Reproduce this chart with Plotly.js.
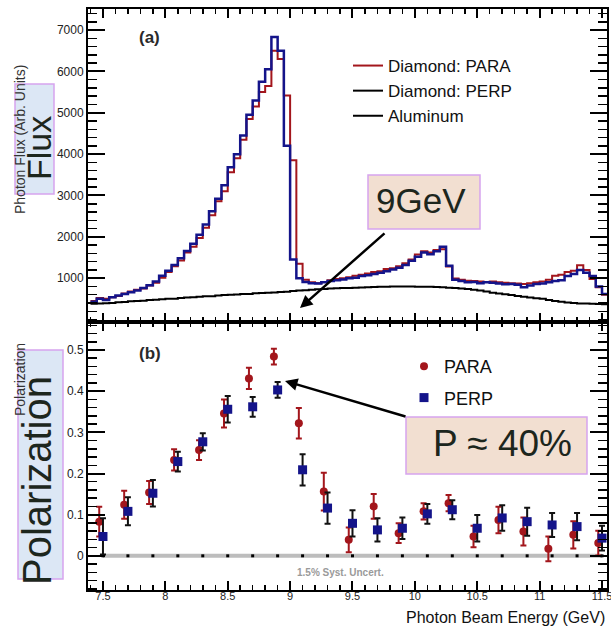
<!DOCTYPE html>
<html><head><meta charset="utf-8">
<script src="https://cdn.plot.ly/plotly-3.0.1.min.js"></script>
<style>html,body{margin:0;padding:0;background:#fff}#chart{width:611px;height:627px}</style>
</head><body><div id="chart"></div>
<script>
// ---- Data: photon flux histograms (bin low edges, GeV) ----
const binLow = [7.40,7.45,7.50,7.55,7.60,7.65,7.70,7.75,7.80,7.85,7.90,7.95,
 8.00,8.05,8.10,8.15,8.20,8.25,8.30,8.35,8.40,8.45,8.50,8.55,8.60,8.65,8.70,8.75,8.80,8.85,8.90,8.95,
 9.00,9.05,9.10,9.15,9.20,9.25,9.30,9.35,9.40,9.45,9.50,9.55,9.60,9.65,9.70,9.75,9.80,9.85,9.90,9.95,
 10.00,10.05,10.10,10.15,10.20,10.25,10.30,10.35,10.40,10.45,10.50,10.55,10.60,10.65,10.70,10.75,10.80,10.85,10.90,10.95,
 11.00,11.05,11.10,11.15,11.20,11.25,11.30,11.35,11.40,11.45,11.50];
const binWidth = 0.05;
const fluxPara = [450,520,500,540,570,630,680,720,750,820,890,1010,
 1150,1290,1430,1620,1760,1970,2220,2520,2860,3100,3560,3900,4350,4850,5150,5500,5650,6500,6300,5420,
 3850,1350,960,900,880,910,950,980,1000,1020,1060,1080,1110,1150,1170,1220,1240,1290,1360,1450,
 1570,1650,1620,1680,1700,1280,990,960,940,930,920,910,920,900,890,880,870,860,880,900,
 920,960,1060,1080,1150,1180,1310,1200,980,780,600];
const fluxPerp = [430,500,470,540,580,620,660,700,760,830,920,1060,
 1180,1320,1480,1660,1830,2050,2300,2620,2920,3250,3680,4000,4450,4950,5300,5750,6050,6830,6500,4200,
 1450,1000,910,880,870,900,930,950,970,1000,1010,1050,1070,1100,1130,1170,1210,1250,1320,1420,
 1520,1620,1580,1650,1760,1300,960,930,900,910,880,900,890,870,850,860,840,780,820,860,
 870,900,930,950,1050,1100,1200,1130,1050,800,620];
const fluxAlu = [380,385,395,400,415,425,440,445,455,470,480,490,
 500,505,520,530,540,550,560,565,580,590,600,605,615,620,635,640,650,655,665,670,
 690,700,710,720,730,740,750,755,760,765,770,775,780,785,790,790,800,800,800,800,
 795,795,790,785,780,770,760,750,740,720,700,675,650,630,610,590,570,550,530,515,
 500,475,450,430,410,400,390,385,380,375,370];

// ---- Data: polarization ----
const polParaE = [7.47,7.67,7.87,8.07,8.27,8.47,8.67,8.87,9.07,9.27,9.47,9.67,9.87,10.07,10.27,10.47,10.67,10.87,11.07,11.27,11.47];
const polPara = [0.083,0.124,0.154,0.233,0.257,0.346,0.431,0.484,0.322,0.156,0.039,0.120,0.055,0.108,0.128,0.047,0.087,0.059,0.017,0.051,0.031];
const polParaErr = [0.036,0.034,0.028,0.026,0.024,0.034,0.026,0.019,0.037,0.046,0.030,0.030,0.024,0.020,0.020,0.026,0.032,0.034,0.030,0.033,0.030];
const polPerpE = [7.50,7.70,7.90,8.10,8.30,8.50,8.70,8.90,9.10,9.30,9.50,9.70,9.90,10.10,10.30,10.50,10.70,10.90,11.10,11.30,11.50];
const polPerp = [0.047,0.108,0.152,0.229,0.277,0.356,0.362,0.403,0.209,0.116,0.079,0.063,0.067,0.102,0.112,0.067,0.092,0.083,0.075,0.071,0.043];
const polPerpErr = [0.044,0.034,0.032,0.024,0.021,0.032,0.024,0.019,0.038,0.038,0.032,0.028,0.026,0.024,0.023,0.032,0.031,0.034,0.029,0.033,0.030];
const systBase = [0,0,0,0,0,0,0,0,0,0,0,0,0,0,0,0,0,0,0,0,0];

const fluxTicks = [1000,2000,3000,4000,5000,6000,7000];
const fluxTickText = ['1000','2000','3000','4000','5000','6000','7000'];

function steps(vals){
  const x=[], y=[];
  for(let i=0;i<vals.length;i++){ x.push(binLow[i]); y.push(vals[i]); }
  x.push(binLow[binLow.length-1]+binWidth); y.push(vals[vals.length-1]);
  return {x, y};
}

const FONT = 'Liberation Sans, Arial, Helvetica, sans-serif';
const RED = '#a3161c', NAVY = '#14148a';
const L=88, R=607, T=9, B=590;
const px = v => (v-L)/(R-L);
const py = v => (B-v)/(B-T);
const split = (B-322)/(B-T);

const sPara = steps(fluxPara), sPerp = steps(fluxPerp), sAlu = steps(fluxAlu);

const traces = [
  {x:sPara.x, y:sPara.y, xaxis:'x2', yaxis:'y2', type:'scatter', mode:'lines', line:{shape:'hv', color:RED, width:2},
   name:'Diamond: PARA', legend:'legend'},
  {x:sPerp.x, y:sPerp.y, xaxis:'x2', yaxis:'y2', type:'scatter', mode:'lines', line:{shape:'hv', color:NAVY, width:2.5},
   name:'Diamond: PERP', showlegend:false},
  {x:[null], y:[null], xaxis:'x2', yaxis:'y2', type:'scatter', mode:'lines', line:{color:'#000', width:2},
   name:'Diamond: PERP', legend:'legend'},
  {x:sAlu.x, y:sAlu.y, xaxis:'x2', yaxis:'y2', type:'scatter', mode:'lines', line:{shape:'hv', color:'#000', width:2},
   name:'Aluminum', legend:'legend'},
  {x:polPerpE, y:systBase, xaxis:'x', yaxis:'y', type:'scatter', mode:'lines+markers',
   line:{color:'#bdbdbd', width:4}, marker:{symbol:'square', size:3, color:'#000'}, showlegend:false, hoverinfo:'skip'},
  {x:polParaE, y:polPara, xaxis:'x', yaxis:'y', type:'scatter', mode:'markers', name:'PARA', legend:'legend2', legendgroup:'d',
   marker:{symbol:'circle', size:8, color:RED},
   error_y:{type:'data', array:polParaErr, visible:true, color:RED, thickness:2, width:3}},
  {x:polPerpE, y:polPerp, xaxis:'x', yaxis:'y', type:'scatter', mode:'markers', name:'PERP', legend:'legend2', legendgroup:'e',
   marker:{symbol:'square', size:9, color:NAVY},
   error_y:{type:'data', array:polPerpErr, visible:true, color:'#111', thickness:2, width:3}}
];

const xCommon = {range:[7.38,11.54], tickmode:'linear', tick0:7.5, dtick:0.5, ticks:'inside', ticklen:9, tickwidth:2,
  tickcolor:'#000', showline:true, linewidth:2, linecolor:'#000', mirror:'allticks', showgrid:false, zeroline:false,
  minor:{ticks:'inside', ticklen:5, tickwidth:1.5, tickcolor:'#000', tick0:7.5, dtick:0.1, showgrid:false},
  tickfont:{family:FONT, size:11, color:'#222'}, ticklabeloverflow:'allow'};

function ann(text, x, y, size, extra){
  return Object.assign({text:text, xref:'paper', yref:'paper', x:px(x), y:py(y), xanchor:'center', yanchor:'middle',
    showarrow:false, font:{family:FONT, size:size, color:'#1d261d'}}, extra||{});
}

const layout = {
  width:611, height:627, margin:{l:L, r:611-R, t:T, b:627-B},
  paper_bgcolor:'#fff', plot_bgcolor:'#fff',
  font:{family:FONT, color:'#111'},
  xaxis: Object.assign({}, xCommon, {anchor:'y', domain:[0,1], ticklabelstandoff:-5}),
  xaxis2: Object.assign({}, xCommon, {anchor:'y2', domain:[0,1], showticklabels:false, matches:'x'}),
  yaxis: {domain:[0,split], anchor:'x', range:[-0.083,0.568], tickmode:'linear', tick0:0, dtick:0.1,
    ticks:'inside', ticklen:17, tickwidth:2, tickcolor:'#000', showline:true, linewidth:2, linecolor:'#000',
    mirror:'allticks', showgrid:false, zeroline:false,
    minor:{ticks:'inside', ticklen:9, tickwidth:1.5, tickcolor:'#000', tick0:0, dtick:0.02, showgrid:false},
    tickfont:{family:FONT, size:12, color:'#222'}},
  yaxis2: {domain:[split,1], anchor:'x2', range:[-60,7510], tickmode:'array', tickvals:fluxTicks, ticktext:fluxTickText,
    ticks:'inside', ticklen:17, tickwidth:2, tickcolor:'#000', showline:true, linewidth:2, linecolor:'#000',
    mirror:'allticks', showgrid:false, zeroline:false,
    minor:{ticks:'inside', ticklen:9, tickwidth:1.5, tickcolor:'#000', tick0:0, dtick:200, showgrid:false},
    tickfont:{family:FONT, size:12, color:'#222'}},
  legend: {x:px(348), y:py(48), xanchor:'left', yanchor:'top', bgcolor:'rgba(0,0,0,0)',
    font:{family:FONT, size:17, color:'#111'}, traceorder:'normal'},
  legend2: {x:px(404), y:py(348), xanchor:'left', yanchor:'top', bgcolor:'rgba(0,0,0,0)',
    font:{family:FONT, size:18, color:'#111'}, traceorder:'grouped', tracegroupgap:5},
  shapes: [
    {type:'rect', xref:'paper', yref:'paper', x0:px(15), x1:px(54), y0:py(194), y1:py(84), layer:'above',
     fillcolor:'rgba(214,227,243,0.85)', line:{color:'#d6a4ee', width:1.5}},
    {type:'rect', xref:'paper', yref:'paper', x0:px(18), x1:px(63), y0:py(579), y1:py(350), layer:'above',
     fillcolor:'rgba(214,227,243,0.85)', line:{color:'#d6a4ee', width:1.5}},
    {type:'rect', xref:'paper', yref:'paper', x0:px(368), x1:px(480), y0:py(229), y1:py(175), layer:'above',
     fillcolor:'rgba(242,222,207,0.97)', line:{color:'#d6a4ee', width:1.5}},
    {type:'rect', xref:'paper', yref:'paper', x0:px(406), x1:px(587), y0:py(474), y1:py(417), layer:'above',
     fillcolor:'rgba(242,222,207,0.97)', line:{color:'#d6a4ee', width:1.5}}
  ],
  annotations: [
    ann('<b>(a)</b>', 149, 37, 17, {font:{family:FONT, size:17, color:'#2a2a2a'}}),
    ann('<b>(b)</b>', 150, 353, 17, {font:{family:FONT, size:17, color:'#2a2a2a'}}),
    ann('Photon Flux (Arb. Units)', 20, 140, 14, {textangle:-90, font:{family:FONT, size:14, color:'#333'}}),
    ann('Polarization', 20, 380, 14, {textangle:-90, font:{family:FONT, size:14, color:'#333'}}),
    ann('Photon Beam Energy (GeV)', 607, 617, 16, {x:1, xanchor:'right', font:{family:FONT, size:16, color:'#111'}}),
    ann('<b>1.5% Syst. Uncert.</b>', 340, 572, 10, {font:{family:FONT, size:10, color:'#9a9a9a'}}),
    ann('Flux', 39, 148, 34, {textangle:-90}),
    ann('Polarization', 37, 481, 40, {textangle:-90}),
    ann('9GeV', 421, 201, 35),
    ann('P \u2248 40%', 502, 443, 37),
    {text:'', xref:'paper', yref:'paper', x:px(300), y:py(308), ax:86, ay:-76, showarrow:true,
     arrowhead:2, arrowsize:1, arrowwidth:2.5, arrowcolor:'#000'},
    {text:'', xref:'paper', yref:'paper', x:px(285), y:py(381), ax:122, ay:36, showarrow:true,
     arrowhead:2, arrowsize:1, arrowwidth:2.5, arrowcolor:'#000'}
  ]
};

Plotly.newPlot('chart', traces, layout, {displayModeBar:false, staticPlot:true});
</script>
</body></html>
